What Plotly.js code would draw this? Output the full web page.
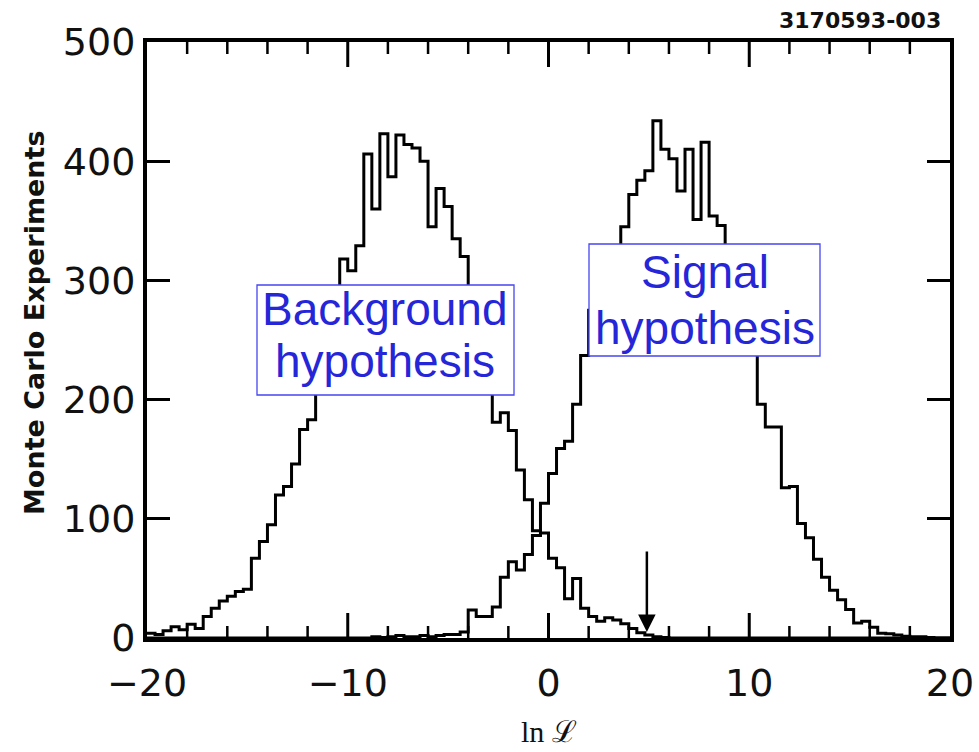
<!DOCTYPE html>
<html>
<head>
<meta charset="utf-8">
<script src="https://cdn.plot.ly/plotly-3.0.1.min.js"></script>
<style>html,body{margin:0;padding:0;background:#fff;}#chart{width:979px;height:752px;}</style>
</head>
<body>
<div id="chart"></div>
<script>
// ---- data (histograms, bin width 0.4 from -20 to 20) ----
const binStart = -20;
const binWidth = 0.4;

const backgroundCounts = [
  4, 3, 6, 9.5, 7, 11.5, 8, 18, 25, 31,
  35, 39, 41, 67, 81, 95, 120, 127, 146, 175,
  183, 220, 250, 280, 318, 308, 329, 406, 360, 423,
  387, 422, 414, 411, 400, 345, 377, 362, 335, 320,
  285, 245, 215, 181, 189, 174, 141, 116, 90, 88,
  67, 59, 33, 50, 25, 18, 14, 17, 15, 12,
  8, 4.5, 2.5, 1, 0.5, 0, 0, 0, 0, 0,
  0, 0, 0, 0, 0, 0, 0, 0, 0, 0,
  0, 0, 0, 0, 0, 0, 0, 0, 0, 0,
  0, 0, 0, 0, 0, 0, 0, 0, 0, 0
];

const signalCounts = [
  0, 0, 0, 0, 0, 0, 0, 0, 0, 0,
  0, 0, 0, 0, 0, 0, 0, 0, 0, 0,
  0, 0, 0, 0, 0, 0, 0, 0, 1, 0.5,
  1, 2, 1, 1, 2, 1, 2, 3, 3, 5,
  23.5, 18, 18, 26, 51, 64, 57, 70, 86, 113,
  138, 159, 165, 196, 237, 275, 300, 315, 325, 345,
  372, 384, 392, 434, 410, 402, 375, 410, 351, 416,
  354, 346, 310, 285, 262, 245, 196, 177, 177, 126,
  127, 96, 84, 66, 51, 40, 32, 24, 12.5, 14,
  9, 4, 3.5, 2.5, 1.5, 1, 1, 0.5, 0, 0
];

const xTickVals = [-20, -10, 0, 10, 20];
const xTickText = ['\u221220', '\u221210', '0', '10', '20'];
const xMinorTickVals = [-18, -16, -14, -12, -8, -6, -4, -2, 2, 4, 6, 8, 12, 14, 16, 18];
const yTickVals = [0, 100, 200, 300, 400, 500];
const cutValue = 4.9;   // arrow position on ln L axis

const labelBackground = ['Background', 'hypothesis'];
const labelSignal = ['Signal', 'hypothesis'];
const yTitle = 'Monte Carlo Experiments';
const xTitle = 'ln \u2112';
const figId = '3170593-003';

// ---- helpers ----
function stepTrace(counts) {
  const x = [], y = [];
  for (let i = 0; i < counts.length; i++) {
    x.push(binStart + i * binWidth);
    y.push(counts[i]);
  }
  x.push(binStart + counts.length * binWidth);
  y.push(counts[counts.length - 1]);
  return {
    x: x, y: y, type: 'scatter', mode: 'lines',
    line: {shape: 'hv', color: '#000', width: 3},
    hoverinfo: 'skip', showlegend: false
  };
}

const W = 979, H = 752;
const M = {l: 147, r: 29, t: 42, b: 114};
const PW = W - M.l - M.r, PH = H - M.t - M.b;
const Y_MAX = 500;
const px = v => (v - M.l) / PW;
const py = v => (H - M.b - v) / PH;

// inside tick marks on the bottom and top frame, drawn on the axis scales
function xTickTrace(vals, lenPx, width) {
  const len = lenPx * Y_MAX / PH;
  const x = [], y = [];
  vals.forEach(v => {
    x.push(v, v, null, v, v, null);
    y.push(0, len, null, Y_MAX, Y_MAX - len, null);
  });
  return {x: x, y: y, type: 'scatter', mode: 'lines', connectgaps: false,
    line: {color: '#000', width: width}, hoverinfo: 'skip', showlegend: false};
}

const blue = '#2626d9';
const boxLine = '#4646f0';
const labelFont = {family: 'Liberation Sans, Arial, sans-serif', size: 46, color: blue};

function box(x0, y0, x1, y1) {
  return {type: 'rect', xref: 'paper', yref: 'paper', layer: 'above',
    x0: px(x0), x1: px(x1), y0: py(y1), y1: py(y0),
    fillcolor: '#fff', line: {color: boxLine, width: 1.3}};
}
function txt(text, cx, cy, font, extra) {
  return Object.assign({text: text, xref: 'paper', yref: 'paper', x: px(cx), y: py(cy),
    xanchor: 'center', yanchor: 'middle', showarrow: false, font: font}, extra || {});
}

const data = [
  stepTrace(backgroundCounts), stepTrace(signalCounts),
  xTickTrace(xTickVals.slice(1, -1), 25, 3),
  xTickTrace(xMinorTickVals, 12, 2.5)
];

const tickFont = {family: 'DejaVu Sans, sans-serif', size: 38, color: '#111'};

const layout = {
  width: W, height: H,
  margin: M,
  paper_bgcolor: '#fff', plot_bgcolor: '#fff',
  showlegend: false,
  xaxis: {
    range: [-20, 20], tickmode: 'array', tickvals: xTickVals, ticktext: xTickText,
    ticks: 'outside', ticklen: 8, tickwidth: 1, tickcolor: 'rgba(0,0,0,0)',
    showline: true, linewidth: 4, linecolor: '#000', mirror: true,
    showgrid: false, zeroline: false, automargin: false,
    tickfont: tickFont
  },
  yaxis: {
    range: [0, Y_MAX], tickmode: 'array', tickvals: yTickVals,
    ticks: 'inside', ticklen: 23, tickwidth: 3, tickcolor: '#000',
    showline: true, linewidth: 4, linecolor: '#000', mirror: 'ticks',
    showgrid: false, zeroline: false, automargin: false,
    tickfont: tickFont
  },
  shapes: [box(257, 285, 514, 395), box(589, 244, 820, 356)],
  annotations: [
    txt(labelBackground[0], 385, 309, labelFont),
    txt(labelBackground[1], 385, 361, labelFont),
    txt(labelSignal[0], 705, 272, labelFont),
    txt(labelSignal[1], 705, 328, labelFont),
    txt('<b>' + yTitle + '</b>', 34, 323, {family: 'DejaVu Sans, sans-serif', size: 27, color: '#111'}, {textangle: -90}),
    txt(xTitle, 549, 731, {family: 'Liberation Serif, DejaVu Serif, serif', size: 30, color: '#111'}),
    txt('<b>' + figId + '</b>', 860, 21, {family: 'DejaVu Sans, sans-serif', size: 22, color: '#111'}),
    {x: cutValue, y: 5, xref: 'x', yref: 'y', text: '', showarrow: true,
     ax: 0, ay: -82, axref: 'pixel', ayref: 'pixel',
     arrowhead: 2, arrowsize: 1.4, arrowwidth: 2.5, arrowcolor: '#000'}
  ]
};

Plotly.newPlot('chart', data, layout, {staticPlot: true, displayModeBar: false});
</script>
</body>
</html>
